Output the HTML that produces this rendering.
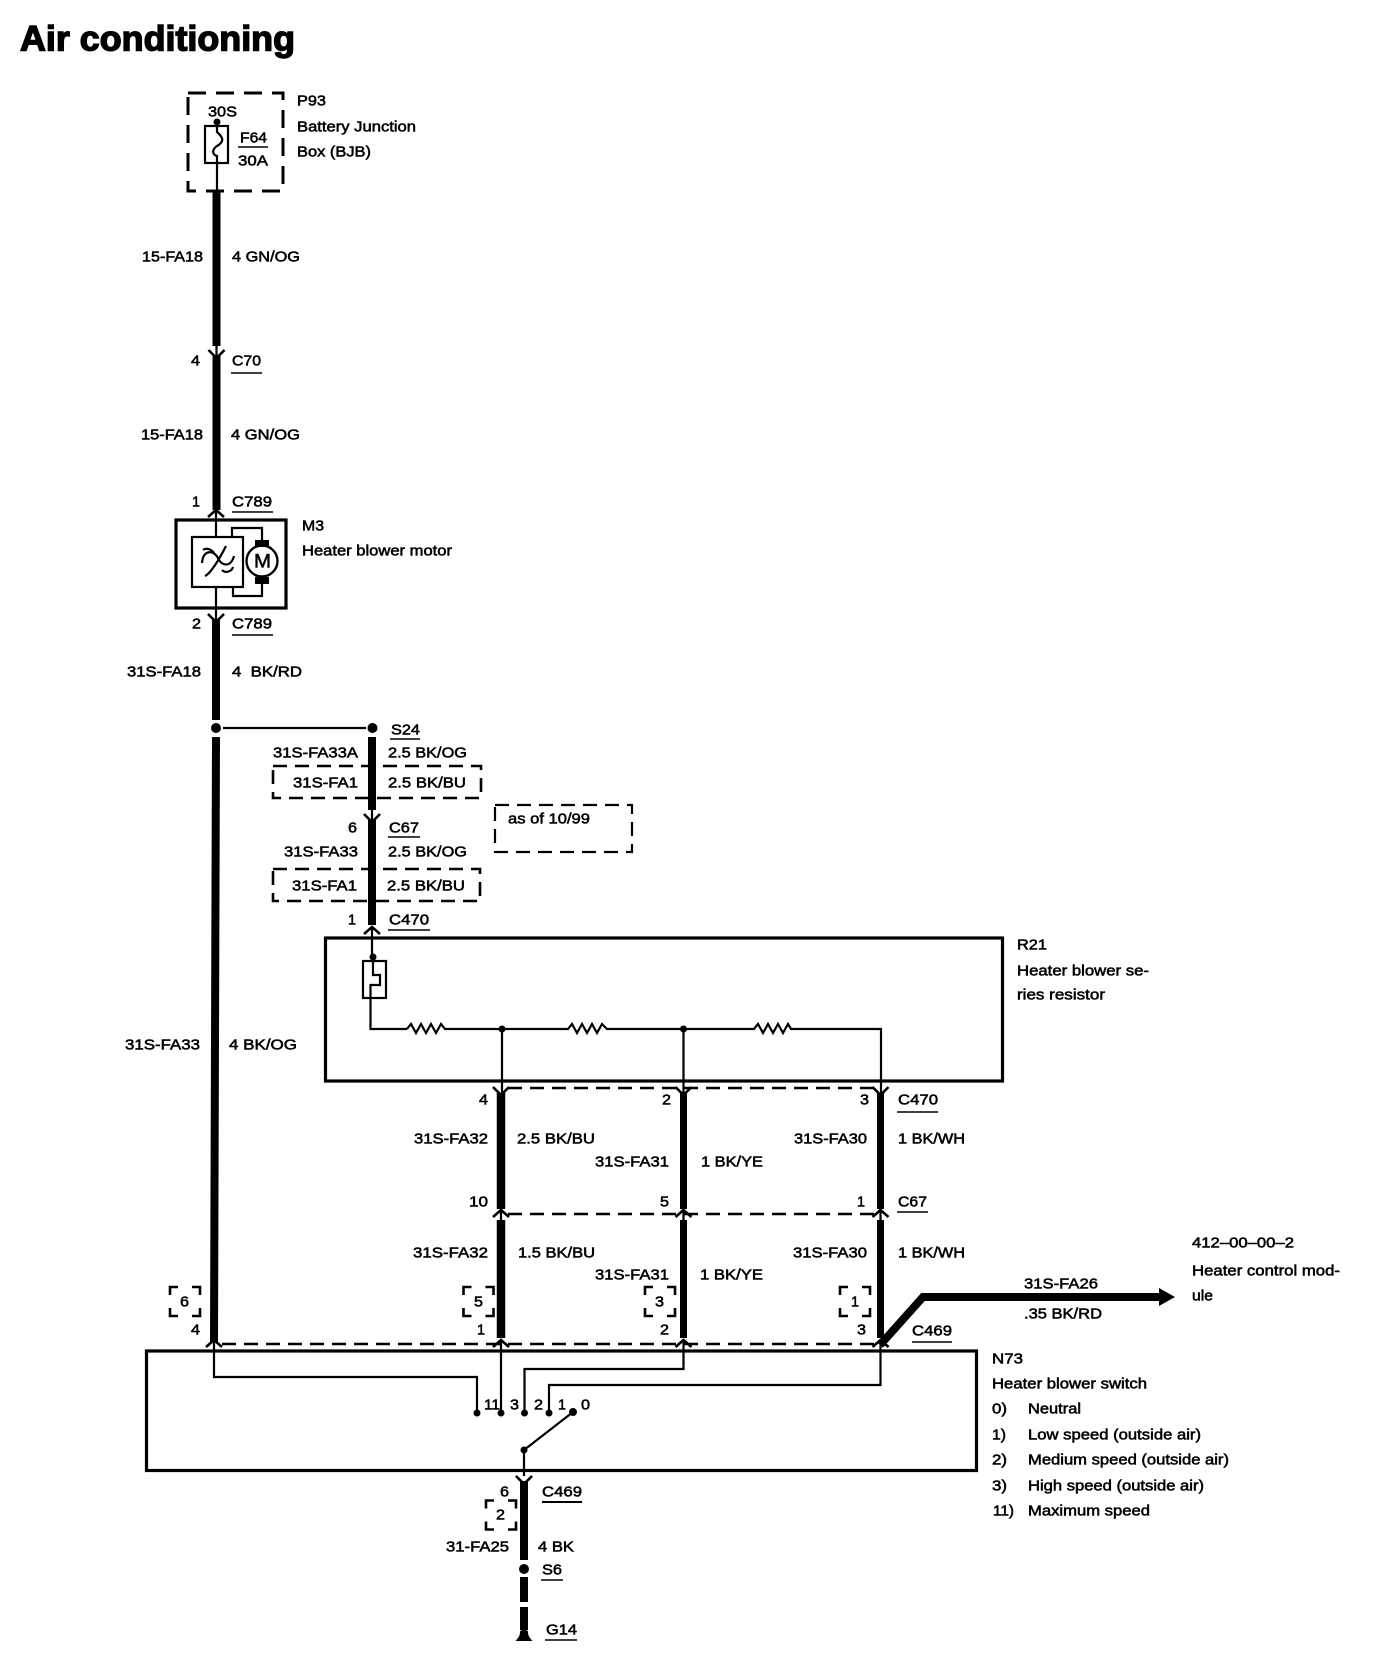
<!DOCTYPE html>
<html lang="en">
<head>
<meta charset="utf-8">
<title>Air conditioning</title>
<style>
html,body{margin:0;padding:0;background:#fff;width:1392px;height:1674px;overflow:hidden}
svg{display:block}
text{font-family:"Liberation Sans",sans-serif;font-size:15px;fill:#000;stroke:#000;stroke-width:.55px;transform:translateY(-.6px)}
.title{font-size:35px;font-weight:bold;stroke-width:1.4px}
.w{fill:none;stroke:#000;stroke-linecap:butt;stroke-linejoin:miter}
.t{stroke-width:2.2}
.b{stroke-width:3.2}
.d{stroke-width:2.6;stroke-dasharray:14 8}
.c{fill:none;stroke:#000;stroke-width:2.6}
</style>
</head>
<body>
<svg width="1392" height="1674" viewBox="0 0 1392 1674" xmlns="http://www.w3.org/2000/svg">
<defs>
<path id="dn" class="c" d="M-8,-8 L0,0 L8,-8"/>
<path id="up" class="c" d="M-8,7 L0,0 L8,7"/>
<path id="br" class="c" d="M0,8 V0 H8 M22,0 H30 V8 M30,21 V29 H22 M8,29 H0 V21"/>
</defs>

<text class="title" x="20" y="51" textLength="275" lengthAdjust="spacingAndGlyphs">Air conditioning</text>

<!-- P93 -->
<rect x="188" y="93" width="95" height="98" class="w" style="stroke-width:3;stroke-dasharray:18 10"/>
<circle cx="217" cy="122" r="3.5"/>
<rect x="205" y="126" width="23" height="37" class="w t"/>
<path class="w t" d="M217,122 V132 C224,138 224,142 217,146 C211,150 213,155 217,156 V190"/>
<path class="w" stroke-width="1.5" d="M238,147 H268"/>
<text x="208" y="117" textLength="29" lengthAdjust="spacingAndGlyphs">30S</text>
<text x="240" y="143" textLength="27" lengthAdjust="spacingAndGlyphs">F64</text>
<text x="238" y="166" textLength="30" lengthAdjust="spacingAndGlyphs">30A</text>
<text x="297" y="106" textLength="29" lengthAdjust="spacingAndGlyphs">P93</text>
<text x="297" y="132" textLength="119" lengthAdjust="spacingAndGlyphs">Battery Junction</text>
<text x="297" y="157" textLength="74" lengthAdjust="spacingAndGlyphs">Box (BJB)</text>

<!-- Main wire -->
<path class="w" stroke-width="8" d="M216.5,190 V346"/>
<path class="w t" d="M216.5,344 V358"/>
<use href="#dn" x="216.5" y="358"/>
<path class="w" stroke-width="8" d="M216.5,356 V510"/>
<text x="142" y="262" textLength="61" lengthAdjust="spacingAndGlyphs">15-FA18</text>
<text x="232" y="262" textLength="68" lengthAdjust="spacingAndGlyphs">4 GN/OG</text>
<text x="191" y="366" textLength="9" lengthAdjust="spacingAndGlyphs">4</text>
<text x="232" y="366" textLength="29" lengthAdjust="spacingAndGlyphs">C70</text>
<path class="w" stroke-width="1.6" d="M231,373 H262"/>
<text x="141" y="440" textLength="62" lengthAdjust="spacingAndGlyphs">15-FA18</text>
<text x="231" y="440" textLength="69" lengthAdjust="spacingAndGlyphs">4 GN/OG</text>

<text x="192" y="507" textLength="8" lengthAdjust="spacingAndGlyphs">1</text>
<text x="232" y="507" textLength="40" lengthAdjust="spacingAndGlyphs">C789</text>
<path class="w" stroke-width="1.6" d="M232,512 H273"/>
<use href="#up" x="216" y="510"/>

<!-- Motor -->
<rect x="176" y="520" width="110" height="88" class="w b"/>
<rect x="192" y="537" width="51" height="50" class="w t"/>
<path class="w t" d="M216,510 V537 M216,587 V620"/>
<path class="w t" d="M232,537 V528 H262 V541 M233,587 V596 H262 V583"/>
<circle cx="262" cy="561" r="15.5" fill="#fff" stroke="#000" stroke-width="2.4"/>
<rect x="255" y="540" width="14" height="7"/>
<rect x="255" y="577" width="14" height="7"/>
<text x="254" y="568" style="font-size:19px" textLength="17" lengthAdjust="spacingAndGlyphs">M</text>
<path class="w t" d="M202,563 C203,549 214,550 218,558 C222,567 231,567 234,556"/>
<path class="w t" d="M205,576 C210,574 219,560 226,546 M203,550 C207,547 212,550 214,553 M222,570 C226,574 232,571 233,567"/>
<text x="302" y="531" textLength="22" lengthAdjust="spacingAndGlyphs">M3</text>
<text x="302" y="556" textLength="150" lengthAdjust="spacingAndGlyphs">Heater blower motor</text>

<use href="#dn" x="216" y="622"/>
<path class="w" stroke-width="8" d="M216,619 V720"/>
<text x="192" y="629" textLength="9" lengthAdjust="spacingAndGlyphs">2</text>
<text x="232" y="629" textLength="40" lengthAdjust="spacingAndGlyphs">C789</text>
<path class="w" stroke-width="1.6" d="M232,635 H273"/>
<text x="127" y="677" textLength="74" lengthAdjust="spacingAndGlyphs">31S-FA18</text>
<text x="232" y="677" textLength="70" lengthAdjust="spacingAndGlyphs">4&#160;&#160;BK/RD</text>

<circle cx="216" cy="728" r="5"/>
<path class="w t" d="M223,728 H366"/>
<circle cx="372.5" cy="728" r="5"/>
<path class="w" stroke-width="8" d="M216,737 L214,1342"/>
<text x="125" y="1050" textLength="75" lengthAdjust="spacingAndGlyphs">31S-FA33</text>
<text x="229" y="1050" textLength="68" lengthAdjust="spacingAndGlyphs">4 BK/OG</text>

<!-- S24 branch -->
<path class="w" stroke-width="8" d="M372,737 V810"/>
<path class="w t" d="M372,808 V822"/>
<use href="#dn" x="372" y="822"/>
<path class="w" stroke-width="8" d="M372,820 V925"/>
<text x="391" y="735" textLength="29" lengthAdjust="spacingAndGlyphs">S24</text>
<path class="w" stroke-width="1.6" d="M390,739 H420"/>
<text x="273" y="758" textLength="85" lengthAdjust="spacingAndGlyphs">31S-FA33A</text>
<text x="388" y="758" textLength="79" lengthAdjust="spacingAndGlyphs">2.5 BK/OG</text>
<rect x="273" y="766" width="208" height="32" class="w d"/>
<text x="293" y="788" textLength="65" lengthAdjust="spacingAndGlyphs">31S-FA1</text>
<text x="388" y="788" textLength="78" lengthAdjust="spacingAndGlyphs">2.5 BK/BU</text>
<text x="348" y="833" textLength="9" lengthAdjust="spacingAndGlyphs">6</text>
<text x="389" y="833" textLength="30" lengthAdjust="spacingAndGlyphs">C67</text>
<path class="w" stroke-width="1.6" d="M388,837 H420"/>
<text x="284" y="857" textLength="74" lengthAdjust="spacingAndGlyphs">31S-FA33</text>
<text x="388" y="857" textLength="79" lengthAdjust="spacingAndGlyphs">2.5 BK/OG</text>
<rect x="273" y="869" width="207" height="32" class="w d"/>
<text x="292" y="891" textLength="65" lengthAdjust="spacingAndGlyphs">31S-FA1</text>
<text x="387" y="891" textLength="78" lengthAdjust="spacingAndGlyphs">2.5 BK/BU</text>
<text x="348" y="925" textLength="8" lengthAdjust="spacingAndGlyphs">1</text>
<text x="389" y="925" textLength="40" lengthAdjust="spacingAndGlyphs">C470</text>
<path class="w" stroke-width="1.6" d="M388,930 H430"/>
<use href="#up" x="372" y="927"/>

<rect x="495" y="805" width="137" height="47" class="w" style="stroke-width:2.2;stroke-dasharray:14 8"/>
<text x="508" y="824" textLength="82" lengthAdjust="spacingAndGlyphs">as of 10/99</text>

<!-- R21 -->
<rect x="325.5" y="938" width="677" height="143" class="w b"/>
<path class="w t" d="M372,927 V957"/>
<circle cx="373" cy="957" r="3.5"/>
<rect x="363" y="961" width="23" height="37" class="w t"/>
<path class="w t" d="M373,961 V975 H380 V985 H370.5 V1029 H407"/>
<path class="w t" d="M407,1029 l4,-5 l5,9 l5,-9 l5,9 l5,-9 l5,9 l5,-9 l4,5 H568 l4,-5 l5,9 l5,-9 l5,9 l5,-9 l5,9 l5,-9 l5,5 H754 l4,-5 l5,9 l5,-9 l5,9 l5,-9 l5,9 l5,-9 l3,5 H881 V1095"/>
<circle cx="502" cy="1029" r="3.5"/>
<circle cx="683.5" cy="1029" r="3.5"/>
<path class="w t" d="M502,1029 V1095 M683.5,1029 V1095"/>
<text x="1017" y="950" textLength="30" lengthAdjust="spacingAndGlyphs">R21</text>
<text x="1017" y="976" textLength="132" lengthAdjust="spacingAndGlyphs">Heater blower se-</text>
<text x="1017" y="1000" textLength="88" lengthAdjust="spacingAndGlyphs">ries resistor</text>

<!-- three vertical wires -->
<path class="w" stroke-width="8.5" d="M501,1093 V1209 M501,1220 V1338"/>
<path class="w" stroke-width="7" d="M683.5,1093 V1209 M683.5,1220 V1338 M880.5,1093 V1209 M880.5,1220 V1338"/>
<path class="w t" d="M501,1207 V1222 M683.5,1207 V1222 M880.5,1207 V1222"/>
<use href="#dn" x="501" y="1095"/><use href="#dn" x="683.5" y="1095"/><use href="#dn" x="880.5" y="1095"/>
<use href="#up" x="501" y="1210"/><use href="#up" x="683.5" y="1210"/><use href="#up" x="880.5" y="1210"/>
<use href="#up" x="214" y="1340"/><use href="#up" x="501" y="1340"/><use href="#up" x="683.5" y="1340"/><use href="#up" x="880.5" y="1340"/>

<path class="w d" d="M508,1088 H876"/>
<path class="w d" d="M508,1214 H876"/>
<path class="w d" d="M222,1344 H876"/>

<text x="479" y="1105" textLength="9" lengthAdjust="spacingAndGlyphs">4</text>
<text x="662" y="1105" textLength="9" lengthAdjust="spacingAndGlyphs">2</text>
<text x="860" y="1105" textLength="9" lengthAdjust="spacingAndGlyphs">3</text>
<text x="898" y="1105" textLength="40" lengthAdjust="spacingAndGlyphs">C470</text>
<path class="w" stroke-width="1.6" d="M897,1112 H938"/>
<text x="414" y="1144" textLength="74" lengthAdjust="spacingAndGlyphs">31S-FA32</text>
<text x="517" y="1144" textLength="78" lengthAdjust="spacingAndGlyphs">2.5 BK/BU</text>
<text x="595" y="1167" textLength="74" lengthAdjust="spacingAndGlyphs">31S-FA31</text>
<text x="701" y="1167" textLength="62" lengthAdjust="spacingAndGlyphs">1 BK/YE</text>
<text x="794" y="1144" textLength="73" lengthAdjust="spacingAndGlyphs">31S-FA30</text>
<text x="898" y="1144" textLength="67" lengthAdjust="spacingAndGlyphs">1 BK/WH</text>
<text x="469" y="1207" textLength="19" lengthAdjust="spacingAndGlyphs">10</text>
<text x="660" y="1207" textLength="9" lengthAdjust="spacingAndGlyphs">5</text>
<text x="857" y="1207" textLength="8" lengthAdjust="spacingAndGlyphs">1</text>
<text x="898" y="1207" textLength="29" lengthAdjust="spacingAndGlyphs">C67</text>
<path class="w" stroke-width="1.6" d="M897,1212 H928"/>
<text x="413" y="1258" textLength="75" lengthAdjust="spacingAndGlyphs">31S-FA32</text>
<text x="518" y="1258" textLength="77" lengthAdjust="spacingAndGlyphs">1.5 BK/BU</text>
<text x="595" y="1280" textLength="74" lengthAdjust="spacingAndGlyphs">31S-FA31</text>
<text x="700" y="1280" textLength="63" lengthAdjust="spacingAndGlyphs">1 BK/YE</text>
<text x="793" y="1258" textLength="74" lengthAdjust="spacingAndGlyphs">31S-FA30</text>
<text x="898" y="1258" textLength="67" lengthAdjust="spacingAndGlyphs">1 BK/WH</text>

<use href="#br" x="170" y="1287"/>
<text x="180" y="1307" textLength="9" lengthAdjust="spacingAndGlyphs">6</text>
<use href="#br" x="463.5" y="1287"/>
<text x="474" y="1307" textLength="9" lengthAdjust="spacingAndGlyphs">5</text>
<use href="#br" x="645" y="1287"/>
<text x="655" y="1307" textLength="9" lengthAdjust="spacingAndGlyphs">3</text>
<use href="#br" x="840" y="1287"/>
<text x="851" y="1307" textLength="8" lengthAdjust="spacingAndGlyphs">1</text>

<text x="191" y="1335" textLength="9" lengthAdjust="spacingAndGlyphs">4</text>
<text x="477" y="1335" textLength="8" lengthAdjust="spacingAndGlyphs">1</text>
<text x="660" y="1335" textLength="9" lengthAdjust="spacingAndGlyphs">2</text>
<text x="857" y="1335" textLength="9" lengthAdjust="spacingAndGlyphs">3</text>
<text x="912" y="1336" textLength="40" lengthAdjust="spacingAndGlyphs">C469</text>
<path class="w" stroke-width="1.6" d="M912,1342 H952"/>

<!-- diagonal wire to module -->
<path class="w" stroke-width="8" d="M880,1345 L923,1297 H1160"/>
<path d="M1159,1288 L1175,1297 L1159,1306 Z"/>
<text x="1024" y="1289" textLength="74" lengthAdjust="spacingAndGlyphs">31S-FA26</text>
<text x="1024" y="1319" textLength="78" lengthAdjust="spacingAndGlyphs">.35 BK/RD</text>
<text x="1192" y="1248" textLength="102" lengthAdjust="spacingAndGlyphs">412–00–00–2</text>
<text x="1192" y="1276" textLength="148" lengthAdjust="spacingAndGlyphs">Heater control mod-</text>
<text x="1192" y="1301" textLength="21" lengthAdjust="spacingAndGlyphs">ule</text>

<!-- N73 -->
<rect x="146.5" y="1351" width="830" height="119.5" class="w b"/>
<path class="w t" d="M214,1340 V1377 H477 V1413"/>
<path class="w t" d="M501,1340 V1413"/>
<path class="w t" d="M683.5,1340 V1369 H524.5 V1413"/>
<path class="w t" d="M880.5,1340 V1385 H549 V1413"/>
<circle cx="477" cy="1413" r="3.5"/><circle cx="501" cy="1413" r="3.5"/>
<circle cx="524.5" cy="1413" r="3.5"/><circle cx="549" cy="1413" r="3.5"/>
<circle cx="573" cy="1412" r="4"/><circle cx="524" cy="1450" r="3.5"/>
<path class="w t" d="M573,1412 L524,1450 V1476"/>
<text x="484" y="1410" textLength="16" lengthAdjust="spacingAndGlyphs">11</text>
<text x="510" y="1410" textLength="9" lengthAdjust="spacingAndGlyphs">3</text>
<text x="534" y="1410" textLength="9" lengthAdjust="spacingAndGlyphs">2</text>
<text x="558" y="1410" textLength="8" lengthAdjust="spacingAndGlyphs">1</text>
<text x="581" y="1410" textLength="9" lengthAdjust="spacingAndGlyphs">0</text>

<text x="992" y="1364" textLength="31" lengthAdjust="spacingAndGlyphs">N73</text>
<text x="992" y="1389" textLength="155" lengthAdjust="spacingAndGlyphs">Heater blower switch</text>
<text x="992" y="1414" textLength="15" lengthAdjust="spacingAndGlyphs">0)</text>
<text x="1028" y="1414" textLength="53" lengthAdjust="spacingAndGlyphs">Neutral</text>
<text x="992" y="1440" textLength="14" lengthAdjust="spacingAndGlyphs">1)</text>
<text x="1028" y="1440" textLength="173" lengthAdjust="spacingAndGlyphs">Low speed (outside air)</text>
<text x="992" y="1465" textLength="15" lengthAdjust="spacingAndGlyphs">2)</text>
<text x="1028" y="1465" textLength="201" lengthAdjust="spacingAndGlyphs">Medium speed (outside air)</text>
<text x="992" y="1491" textLength="15" lengthAdjust="spacingAndGlyphs">3)</text>
<text x="1028" y="1491" textLength="176" lengthAdjust="spacingAndGlyphs">High speed (outside air)</text>
<text x="993" y="1516" textLength="21" lengthAdjust="spacingAndGlyphs">11)</text>
<text x="1028" y="1516" textLength="122" lengthAdjust="spacingAndGlyphs">Maximum speed</text>

<!-- Ground branch -->
<use href="#dn" x="524" y="1484"/>
<path class="w" stroke-width="8" d="M524,1481 V1560"/>
<circle cx="524" cy="1569" r="5"/>
<path class="w" stroke-width="8" d="M524,1577 V1602 M524,1607 V1630"/>
<path d="M515.5,1641 C518,1638 520,1636 520,1632 C520,1629 528,1629 528,1632 C528,1636 530,1638 532.5,1641 Z"/>
<text x="500" y="1497" textLength="9" lengthAdjust="spacingAndGlyphs">6</text>
<text x="542" y="1497" textLength="40" lengthAdjust="spacingAndGlyphs">C469</text>
<path class="w" stroke-width="2" d="M542,1502 H582"/>
<use href="#br" x="486" y="1500.5"/>
<text x="496" y="1520" textLength="9" lengthAdjust="spacingAndGlyphs">2</text>
<text x="446" y="1552" textLength="63" lengthAdjust="spacingAndGlyphs">31-FA25</text>
<text x="538" y="1552" textLength="36" lengthAdjust="spacingAndGlyphs">4 BK</text>
<text x="542" y="1575" textLength="20" lengthAdjust="spacingAndGlyphs">S6</text>
<path class="w" stroke-width="1.6" d="M541,1580 H563"/>
<text x="546" y="1635" textLength="31" lengthAdjust="spacingAndGlyphs">G14</text>
<path class="w" stroke-width="1.6" d="M545,1640 H577"/>
</svg>
</body>
</html>
